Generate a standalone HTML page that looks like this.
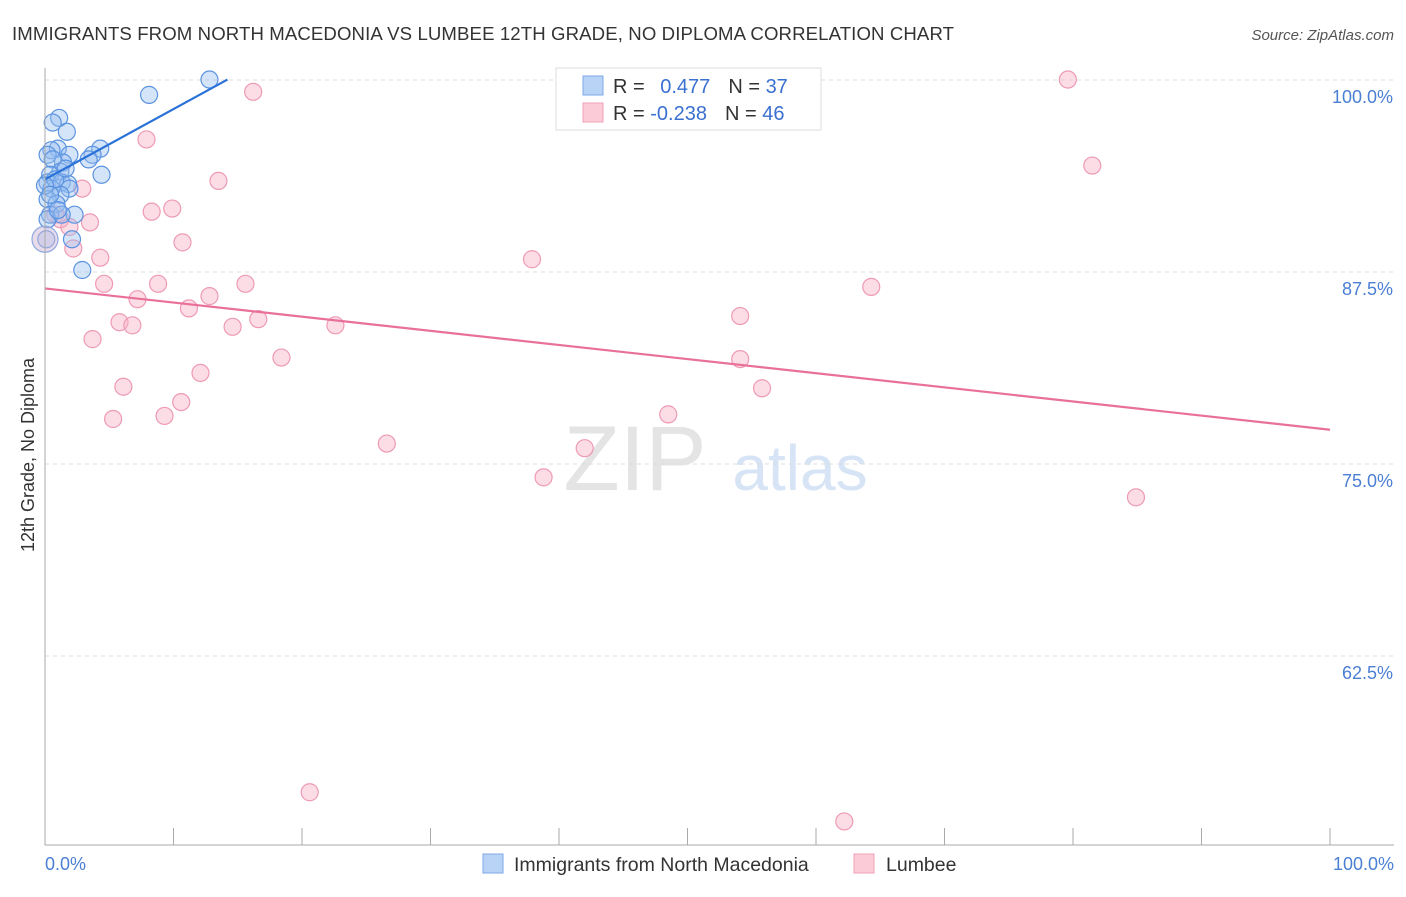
<!DOCTYPE html>
<html><head><meta charset="utf-8"><style>
body{margin:0;background:#fff;font-family:"Liberation Sans",sans-serif;}
svg text{font-family:"Liberation Sans",sans-serif;}
</style></head><body>
<svg id="c" width="1406" height="892">
<text x="12" y="40" font-size="18.6" fill="#333" textLength="942">IMMIGRANTS FROM NORTH MACEDONIA VS LUMBEE 12TH GRADE, NO DIPLOMA CORRELATION CHART</text>
<text x="1394" y="40" font-size="15" fill="#555" text-anchor="end" font-style="italic">Source: ZipAtlas.com</text>
<text x="34" y="455" font-size="18" fill="#333" text-anchor="middle" transform="rotate(-90 34 455)">12th Grade, No Diploma</text>
<text x="635" y="490" font-size="92" fill="#e4e4e4" text-anchor="middle" font-family="Liberation Serif">ZIP</text>
<text x="800" y="490" font-size="64" fill="#d6e4f5" text-anchor="middle">atlas</text>
<g id="grid"></g><g id="pts"></g><g id="lines"></g>
<line x1="45" y1="68" x2="45" y2="845" stroke="#aaa"/>
<line x1="45" y1="845" x2="1394" y2="845" stroke="#aaa"/>
<text x="45" y="870" font-size="18" fill="#4a7fd4">0.0%</text>
<text x="1394" y="870" font-size="18" fill="#4a7fd4" text-anchor="end">100.0%</text>
<g>
<rect x="556" y="68" width="265" height="62" fill="#fff" stroke="#ddd"/>
<rect x="583" y="76" width="20" height="19" fill="#b8d3f5" stroke="#7fa9e6"/>
<rect x="583" y="103" width="20" height="19" fill="#fbcbd8" stroke="#f0a0b8"/>
<text x="613" y="93" font-size="20" fill="#333">R = <tspan fill="#3a70d0" dx="10">0.477</tspan><tspan dx="18" fill="#333">N = </tspan><tspan fill="#3a70d0">37</tspan></text>
<text x="613" y="120" font-size="20" fill="#333">R = <tspan fill="#3a70d0">-0.238</tspan><tspan dx="18" fill="#333">N = </tspan><tspan fill="#3a70d0">46</tspan></text>
</g>
<g>
<rect x="483" y="854" width="20" height="19" fill="#b8d3f5" stroke="#7fa9e6"/>
<text x="514" y="871" font-size="19.5" fill="#333">Immigrants from North Macedonia</text></g>
<g>
<rect x="854" y="854" width="20" height="19" fill="#fbcbd8" stroke="#f0a0b8"/>
<text x="886" y="871" font-size="19.5" fill="#333">Lumbee</text></g>
</svg>
<script>
const yTicks=[100,87.5,75,62.5];
const yTickLabels=["100.0%","87.5%","75.0%","62.5%"];
const blueX=[12.8,8.1,1.1,0.6,1.7,4.3,1.0,0.5,1.9,0.2,3.7,3.4,1.4,0.6,1.2,4.4,0.4,0.2,1.3,1.8,0.5,1.9,1.2,0.2,0.9,2.3,0.4,0.2,1.3,2.1,2.9,0.1,0.8,1.6,0.0,0.4,1.0];
const blueY=[99.9,98.9,97.4,97.1,96.5,95.4,95.4,95.3,95.0,95.0,95.0,94.7,94.5,94.7,93.9,93.7,93.7,93.2,93.2,93.1,92.8,92.8,92.4,92.1,91.8,91.1,91.1,90.8,91.1,89.5,87.5,89.5,93.4,94.1,93.0,92.4,91.4];
const pinkX=[79.6,16.2,7.9,81.5,13.5,2.9,8.3,9.9,0.8,1.2,3.5,1.9,10.7,2.2,37.9,4.3,4.6,8.8,15.6,64.3,7.2,12.8,11.2,16.6,54.1,5.8,6.8,14.6,22.6,3.7,18.4,54.1,12.1,6.1,55.8,10.6,5.3,9.3,48.5,26.6,42.0,38.8,84.9,20.6,62.2];
const pinkY=[99.9,99.1,96.0,94.3,93.3,92.8,91.3,91.5,91.1,90.8,90.6,90.3,89.3,88.9,88.2,88.3,86.6,86.6,86.6,86.4,85.6,85.8,85.0,84.3,84.5,84.1,83.9,83.8,83.9,83.0,81.8,81.7,80.8,79.9,79.8,78.9,77.8,78.0,78.1,76.2,75.9,74.0,72.7,53.5,51.6];
const blueTrend=[[0,93.4],[14.2,99.9]];
const pinkTrend=[[0,86.3],[100,77.1]];
const X=v=>45+v*12.85, Y=v=>78+(100-v)*15.36;
const NS="http://www.w3.org/2000/svg";
function mk(t,a,p){const e=document.createElementNS(NS,t);for(const k in a)e.setAttribute(k,a[k]);p.appendChild(e);return e;}
const grid=document.getElementById('grid'),pts=document.getElementById('pts'),lines=document.getElementById('lines');
yTicks.forEach((t,i)=>{
 const l=mk('line',{x1:45,x2:1394,y1:Y(t)+2,y2:Y(t)+2,stroke:'#ddd','stroke-dasharray':'4,4'},grid);
 
 
 const tx=mk('text',{x:1393,y:Y(t)+25,'font-size':18,fill:'#4a7fd4','text-anchor':'end'},grid);
 tx.textContent=yTickLabels[i];
 
 
});
for(let i=0;i<=10;i++){
 const tk=mk('line',{x1:X(i*10),x2:X(i*10),y1:828,y2:845,stroke:'#aaa'},grid);
 
 
}
pinkX.forEach((v,i)=>{
 const c=mk('circle',{cx:X(v),cy:Y(pinkY[i]),r:8.5,fill:'rgba(248,180,200,0.45)',stroke:'#ee9ab4','stroke-width':1.2},pts);
 
 
});
blueX.forEach((v,i)=>{
 const c=mk('circle',{cx:X(v),cy:Y(blueY[i]),r:8.5,fill:'rgba(150,190,240,0.4)',stroke:'#5b93e0','stroke-width':1.2},pts);
 
 
});
const big=mk('circle',{cx:X(0),cy:Y(89.5),r:13,fill:'rgba(210,185,215,0.5)',stroke:'#8fa8e0','stroke-width':1.2},pts);


const bl=mk('line',{x1:X(blueTrend[0][0]),y1:Y(blueTrend[0][1]),x2:X(blueTrend[1][0]),y2:Y(blueTrend[1][1]),stroke:'#2a72d8','stroke-width':2.2},lines);


const pl=mk('line',{x1:X(pinkTrend[0][0]),y1:Y(pinkTrend[0][1]),x2:X(pinkTrend[1][0]),y2:Y(pinkTrend[1][1]),stroke:'#e8709a','stroke-width':2.2},lines);


</script>
</body></html>
